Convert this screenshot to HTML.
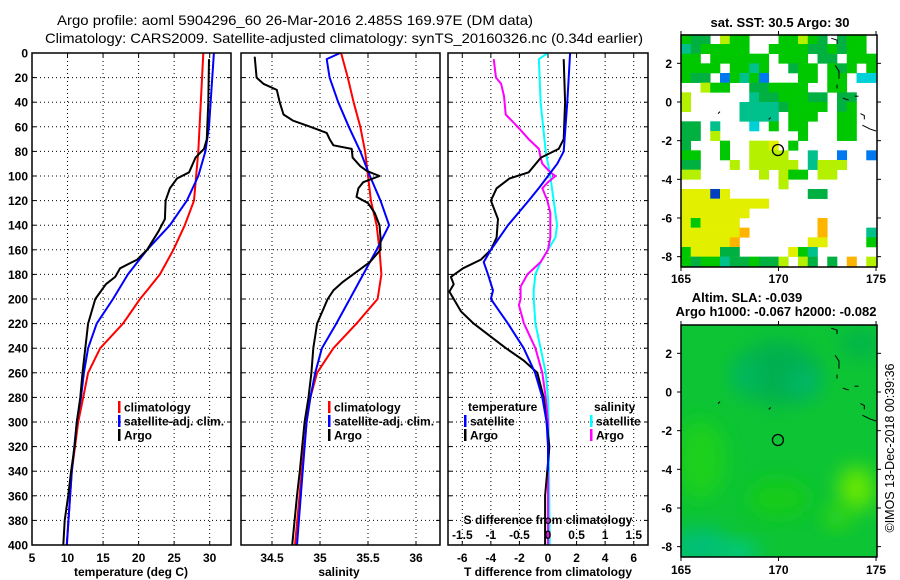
<!DOCTYPE html>
<html><head><meta charset="utf-8">
<style>
html,body{margin:0;padding:0;background:#fff;}
svg{display:block;font-family:"Liberation Sans",sans-serif;}
.tk{font-size:12px;font-weight:bold;fill:#000;}
.tt{font-size:14px;fill:#000;}
</style></head>
<body>
<svg id="fig" width="900" height="580" viewBox="0 0 900 580" xmlns="http://www.w3.org/2000/svg">
<rect width="900" height="580" fill="#fff"/>
<text class="tt" x="57" y="25" textLength="476" lengthAdjust="spacingAndGlyphs">Argo profile: aoml 5904296_60 26-Mar-2016 2.485S 169.97E (DM data)</text>
<text class="tt" x="45" y="43" textLength="598" lengthAdjust="spacingAndGlyphs">Climatology: CARS2009. Satellite-adjusted climatology: synTS_20160326.nc (0.34d earlier)</text>
<g id="panels"></g>
<g id="maps"></g>
</svg>
<script>
// ---- profile data (depth in dbar) ----
const tClimDepth = [0,80,120,140,160,180,193,200,220,240,260,280,300,340,400];
const tClimVal   = [29.1,28.4,27.8,26.5,24.9,23,21.2,20.2,17.8,14.6,12.9,12.2,11.5,10.6,9.9];
const tSatDepth  = [0,60,80,100,120,140,160,180,200,220,240,260,280,300,340,400];
const tSatVal    = [30.6,29.9,29.4,28.4,26.8,24.4,21.2,18.5,16.4,14.1,12.9,12.3,11.9,11.3,10.6,9.9];
const tArgoDepth = [5,40,70,78,85,97,102,110,120,135,145,160,168,175,182,188,200,220,240,260,280,300,320,340,360,380,400];
const tArgoVal   = [29.9,29.8,29.6,29.2,28,27.1,25.4,24.4,23.8,23.7,22.8,21.2,19.8,17.4,16.7,15.4,13.9,12.9,12.5,12.1,11.8,11.3,11,10.5,10.1,9.6,9.4];

const sClimDepth = [0,20,40,60,80,100,120,140,160,180,200,210,220,240,260,280,300,340,400];
const sClimVal   = [35.22,35.29,35.35,35.42,35.47,35.5,35.53,35.59,35.62,35.64,35.6,35.49,35.38,35.14,34.97,34.9,34.86,34.81,34.74];
const sSatDepth  = [0,5,20,40,60,80,100,120,140,160,180,200,220,240,260,280,300,340,400];
const sSatVal    = [35.21,35.07,35.1,35.19,35.3,35.42,35.52,35.63,35.72,35.59,35.45,35.31,35.17,35.02,34.95,34.9,34.86,34.82,34.76];
const sArgoDepth = [3,20,25,30,40,50,55,60,65,70,75,78,85,92,96,100,105,110,117,122,130,140,150,160,170,178,186,193,200,220,240,260,280,300,340,360,400];
const sArgoVal   = [34.32,34.34,34.41,34.55,34.58,34.62,34.72,34.9,35.07,35.1,35.14,35.33,35.34,35.42,35.49,35.62,35.45,35.4,35.38,35.5,35.57,35.62,35.63,35.63,35.52,35.38,35.24,35.14,35.08,34.97,34.93,34.91,34.88,34.84,34.79,34.76,34.71];

const dTArgoDepth = [5,40,70,78,85,97,102,110,120,135,150,160,168,175,182,188,194,210,220,240,250,260,280,290,300,320,360,400];
const dTArgoVal   = [1.1,1.2,1.1,0.75,-0.5,-1.35,-2.7,-3.6,-4,-3.5,-3.6,-4,-4.7,-5.95,-6.8,-6.6,-6.9,-6.1,-5.2,-2.95,-1.7,-0.75,-0.3,-0.2,-0.1,0.1,-0.2,-0.2];
const dTSatDepth  = [0,40,80,90,100,110,120,140,160,170,180,193,200,210,220,240,260,280,300,320,340];
const dTSatVal    = [1.55,1.35,1.1,0.65,0,-0.65,-1.35,-2.8,-4,-4.5,-4.2,-3.85,-4,-3.4,-2.8,-1.7,-0.9,-0.4,-0.1,0,0];
const dSArgoDepth = [5,20,25,35,50,60,70,78,85,90,97,100,105,110,120,130,150,160,170,180,190,200,205,220,240,260,280,300,400];
const dSArgoVal   = [-0.95,-0.91,-0.82,-0.77,-0.74,-0.53,-0.34,-0.16,-0.13,-0.1,0.04,0.13,0,-0.1,-0.01,0.04,0.04,0,-0.13,-0.36,-0.48,-0.48,-0.51,-0.42,-0.22,-0.1,-0.04,0,0];
const dSSatDepth  = [0,5,40,80,100,120,140,150,160,170,180,193,200,220,240,260,280,300,400];
const dSSatVal    = [0,-0.16,-0.13,-0.04,0.04,0.1,0.16,0.13,0,-0.13,-0.22,-0.25,-0.25,-0.22,-0.13,-0.04,0,0.01,0.03];

const depthTicks = [0,20,40,60,80,100,120,140,160,180,200,220,240,260,280,300,320,340,360,380,400];
const tTicks = [5,10,15,20,25,30];
const sTicks = [34.5,35,35.5,36];
const dTTicks = [-6,-4,-2,0,2,4,6];
const dSTickLabels = ["-1.5","-1","-0.5","0","0.5","1","1.5"];
const dSTicks = [-1.5,-1,-0.5,0,0.5,1,1.5];

// ---- map data ----
const sstRows = [
"gdd.lgg...gglgd.dgg.",
"tdggggg..ggggddgdgg.",
"gg.gggggg.ggg.dd.ggg",
"gggg.ggtg..dgg.gdg.g",
"gdd.bgtgb...gg.gg.cc",
"..lgg..ddgggg..gg...",
"l......tddgggdd.dd..",
"l.....ttttdgggg.dg..",
"......tttt.ggg..gg..",
"dd.t...c.g.gg...gg..",
"dd.l........g...gg..",
"d...g..llY.g........",
"gg..g..llll..t..b..b",
"dd...l.lllll.tlll...",
"ll......l.lgg.ll....",
"..........l.........",
"YYYnY........dd.....",
"YYYYYYYYY...........",
"YYYYYYY.............",
"YgYYYY........o.....",
"YYYYYYo.......o....t",
"YYYYYo.......YY....g",
"gYYYdd.....Ygt......",
"gdggtddgddl.ld.d.o.l"];
const sstColors = {g:"#00c800",d:"#00b040",t:"#00c08c",l:"#b4f000",Y:"#e2f000",b:"#0078f0",n:"#0040c0",o:"#ffb400",c:"#00d0d8"};
const lonTicks = [165,170,175];
const latTicks = [2,0,-2,-4,-6,-8];
const argoLon = 169.97, argoLat = -2.485;

const NS="http://www.w3.org/2000/svg";
function mk(tag, attrs, parent){const e=document.createElementNS(NS,tag);for(const k in attrs)e.setAttribute(k,attrs[k]);parent.appendChild(e);return e;}
const Y0=53, Y1=545;
const yD = d => Y0 + d*(Y1-Y0)/400;
const panelsG = document.getElementById('panels');

function panel(name, x0, x1, dmin, dmax, xticks){
  const g = mk('g',{},panelsG);
  
  
  const sx = v => x0 + (v-dmin)*(x1-x0)/(dmax-dmin);
  depthTicks.forEach(d=>{ if(d>0&&d<400){ const l=mk('line',{x1:x0,x2:x1,y1:yD(d),y2:yD(d),stroke:'#000','stroke-width':1,'stroke-dasharray':'1,3'},g);
    
     }});
  xticks.forEach(v=>{ const X=sx(v); if(X>x0+1&&X<x1-1){ const l=mk('line',{x1:X,x2:X,y1:Y0,y2:Y1,stroke:'#000','stroke-width':1,'stroke-dasharray':'1,3'},g);
    
     }
    mk('line',{x1:X,x2:X,y1:Y1,y2:Y1-4,stroke:'#000'},g); mk('line',{x1:X,x2:X,y1:Y0,y2:Y0+4,stroke:'#000'},g); });
  depthTicks.forEach(d=>{ mk('line',{x1:x0,x2:x0+4,y1:yD(d),y2:yD(d),stroke:'#000'},g); mk('line',{x1:x1,x2:x1-4,y1:yD(d),y2:yD(d),stroke:'#000'},g);});
  return {g, sx};
}
function frame(g,x0,x1){ const r=mk('rect',{x:x0,y:Y0,width:x1-x0,height:Y1-Y0,fill:'none',stroke:'#000','stroke-width':1.5},g);
  
   }
function line(g, sx, depths, vals, color, name){
  const pts = depths.map((d,i)=> sx(vals[i]).toFixed(1)+','+yD(d).toFixed(1)).join(' ');
  const p = mk('polyline',{points:pts,fill:'none',stroke:color,'stroke-width':2,'stroke-linejoin':'round'},g);
  
  
}
function txt(g, x, y, s, cls, anchor, name, extra){
  const t = mk('text',Object.assign({x:x,y:y,class:cls,'text-anchor':anchor||'start'},extra||{}),g);
  t.textContent = s;
  
  
  return t;
}
function legendEntry(g,x,y,color,label,name){
  const m = mk('rect',{x:x,y:y-6,width:2.5,height:12,fill:color},g);
  
  
  txt(g,x+6,y+4.5,label,'tk','start',name);
}

// Panel 1 temperature
let P = panel('temperature-panel',32,231,5,33,tTicks);
line(P.g,P.sx,tClimDepth,tClimVal,'#ff0000','temp-climatology-line');
line(P.g,P.sx,tSatDepth,tSatVal,'#0000ff','temp-satellite-line');
line(P.g,P.sx,tArgoDepth,tArgoVal,'#000000','temp-argo-line');
frame(P.g,32,231);
depthTicks.forEach(d=>txt(P.g,28,yD(d)+4.5,String(d),'tk','end','depth-tick-label'));
tTicks.forEach(v=>txt(P.g,P.sx(v),562,String(v),'tk','middle','temp-tick-label'));
txt(P.g,131,576,'temperature (deg C)','tk','middle','x-axis-title-temperature');
legendEntry(P.g,118,407,'#ff0000','climatology','legend-climatology');
legendEntry(P.g,118,421,'#0000ff','satellite-adj. clim.','legend-satellite');
legendEntry(P.g,118,435,'#000000','Argo','legend-argo');

// Panel 2 salinity
P = panel('salinity-panel',241,440,34.5-31/96,34.5+(440-272)/96,sTicks);
line(P.g,P.sx,sClimDepth,sClimVal,'#ff0000','sal-climatology-line');
line(P.g,P.sx,sSatDepth,sSatVal,'#0000ff','sal-satellite-line');
line(P.g,P.sx,sArgoDepth,sArgoVal,'#000000','sal-argo-line');
frame(P.g,241,440);
sTicks.forEach(v=>txt(P.g,P.sx(v),562,String(v),'tk','middle','sal-tick-label'));
txt(P.g,339,576,'salinity','tk','middle','x-axis-title-salinity');
legendEntry(P.g,328,407,'#ff0000','climatology','legend-climatology-2');
legendEntry(P.g,328,421,'#0000ff','satellite-adj. clim.','legend-satellite-2');
legendEntry(P.g,328,435,'#000000','Argo','legend-argo-2');

// Panel 3 differences
P = panel('difference-panel',448,648,-7,7,dTTicks);
const sxS = v => P.sx(v*4);
line(P.g,sxS,dSSatDepth,dSSatVal,'#00ffff','sal-diff-satellite-line');
line(P.g,sxS,dSArgoDepth,dSArgoVal,'#ff00ff','sal-diff-argo-line');
line(P.g,P.sx,dTArgoDepth,dTArgoVal,'#000000','temp-diff-argo-line');
line(P.g,P.sx,dTSatDepth,dTSatVal,'#0000ff','temp-diff-satellite-line');
frame(P.g,448,648);
dTTicks.forEach(v=>txt(P.g,P.sx(v),562,String(v),'tk','middle','tdiff-tick-label'));
txt(P.g,548,576,'T difference from climatology','tk','middle','x-axis-title-tdiff');
txt(P.g,548,524,'S difference from climatology','tk','middle','s-diff-axis-title');
dSTicks.forEach((v,i)=>txt(P.g,sxS(v),539,dSTickLabels[i],'tk','middle','sdiff-tick-label'));
txt(P.g,468,411,'temperature','tk','start','legend-temperature-header');
txt(P.g,594,411,'salinity','tk','start','legend-salinity-header');
legendEntry(P.g,464,421,'#0000ff','satellite','legend-temp-satellite');
legendEntry(P.g,464,435,'#000000','Argo','legend-temp-argo');
legendEntry(P.g,590,421,'#00ffff','satellite','legend-sal-satellite');
legendEntry(P.g,590,435,'#ff00ff','Argo','legend-sal-argo');

// ---- maps ----
const mapsG = document.getElementById('maps');
const MX0=681, MX1=877;
const lonX = l => MX0 + (l-165)*(MX1-MX0)/10.05;
function mapAxes(g, top, bottom, latY, labelY){
  const r=mk('rect',{x:MX0,y:top,width:MX1-MX0,height:bottom-top,fill:'none',stroke:'#000','stroke-width':1.5},g);
  
  
  latTicks.forEach(a=>{ const Yy=latY(a); mk('line',{x1:MX0-4,x2:MX0,y1:Yy,y2:Yy,stroke:'#000'},g); mk('line',{x1:MX1,x2:MX1+4,y1:Yy,y2:Yy,stroke:'#000'},g);
    txt(g,672,Yy+4.5,String(a),'tk','end','lat-tick-label'); });
  lonTicks.forEach(l=>{ const X=lonX(l); mk('line',{x1:X,x2:X,y1:top-4,y2:top,stroke:'#000'},g); mk('line',{x1:X,x2:X,y1:bottom,y2:bottom+4,stroke:'#000'},g);
    txt(g,X,labelY,String(l),'tk','middle','lon-tick-label'); });
}
function coast(g, latY){
  const segs=[[[172.7,3.3],[173,3.2],[173,3.0]],[[172.9,1.9],[173.1,1.6],[173.1,1.2]],[[173,0.9],[173,0.7]],[[173.3,0.2],[173.6,0.1]],[[173.9,0.3],[174.1,0.3]],[[174.2,-0.6],[174.4,-0.7],[174.4,-0.9]],[[174.3,-1.2],[174.7,-1.4],[175,-1.5]],[[166.9,-0.6],[167,-0.5]],[[169.5,-0.9],[169.6,-0.8]]];
  segs.forEach(s=>{ const p=mk('polyline',{points:s.map(q=>lonX(q[0])+','+latY(q[1])).join(' '),fill:'none',stroke:'#000','stroke-width':1},g);
    
     });
}
// SST map
const g1 = mk('g',{},mapsG);


const lat1 = a => 102 - a*19.33;
sstRows.forEach((row,ri)=>{ for(let ci=0;ci<row.length;ci++){ const c=row[ci]; if(c==='.')continue;
  const r=mk('rect',{x:lonX(165+ci*0.5),y:lat1(3.5-ri*0.5),width:(MX1-MX0)/20.1+0.3,height:9.97,fill:sstColors[c]},g1);
  
   }});
coast(g1,lat1);
const c1=mk('circle',{cx:lonX(argoLon),cy:lat1(argoLat),r:5.5,fill:'none',stroke:'#000','stroke-width':1.3},g1);


mapAxes(g1,35,267,lat1,283);
txt(g1,780,27,'sat. SST: 30.5 Argo: 30','tk','middle','sst-map-title',{style:'font-size:13px'});

// SLA map
const g2 = mk('g',{},mapsG);


const lat2 = a => 392 - a*19.33;
const defs = mk('defs',{},g2);
const f = mk('filter',{id:'bl',x:'-50%',y:'-50%',width:'200%',height:'200%'},defs);
mk('feGaussianBlur',{stdDeviation:10},f);
const cp = mk('clipPath',{id:'cp2'},defs);
mk('rect',{x:MX0,y:325,width:MX1-MX0,height:232},cp);
const fg = mk('g',{'clip-path':'url(#cp2)'},g2);
mk('rect',{x:MX0,y:325,width:MX1-MX0,height:232,fill:'#0cc434'},fg);
const blobs=[[170,1,40,32,'#00b050'],[171.3,0.5,16,14,'#00b86c'],[168.3,0.8,12,18,'#04b862'],[166,-3.5,25,40,'#1cd01c'],[166,-8,30,18,'#00c07a'],[168,-8.3,20,10,'#00c890'],[174,-5,18,22,'#6ae800'],[173,-6.5,12,10,'#40dc10'],[170,-5.5,30,18,'#16cc18'],[174.2,2.5,20,14,'#00b44c']];
blobs.forEach(b=>{ const e=mk('ellipse',{cx:lonX(b[0]),cy:lat2(b[1]),rx:b[2],ry:b[3],fill:b[4],filter:'url(#bl)'},fg);
  
   });
coast(g2,lat2);
const c2=mk('circle',{cx:lonX(argoLon),cy:lat2(argoLat),r:5.5,fill:'none',stroke:'#000','stroke-width':1.3},g2);


mapAxes(g2,325,557,lat2,574);
txt(g2,747,302,'Altim. SLA: -0.039','tk','middle','sla-map-title',{style:'font-size:13px'});
txt(g2,776,316,'Argo h1000: -0.067 h2000: -0.082','tk','middle','sla-map-subtitle',{style:'font-size:13px'});
txt(g2,0,0,'\u00a9IMOS 13-Dec-2018 00:39:36','tk','middle','copyright-stamp',{transform:'translate(894,448) rotate(-90)',style:'font-weight:normal;font-size:12.5px'});
</script>
</body></html>
